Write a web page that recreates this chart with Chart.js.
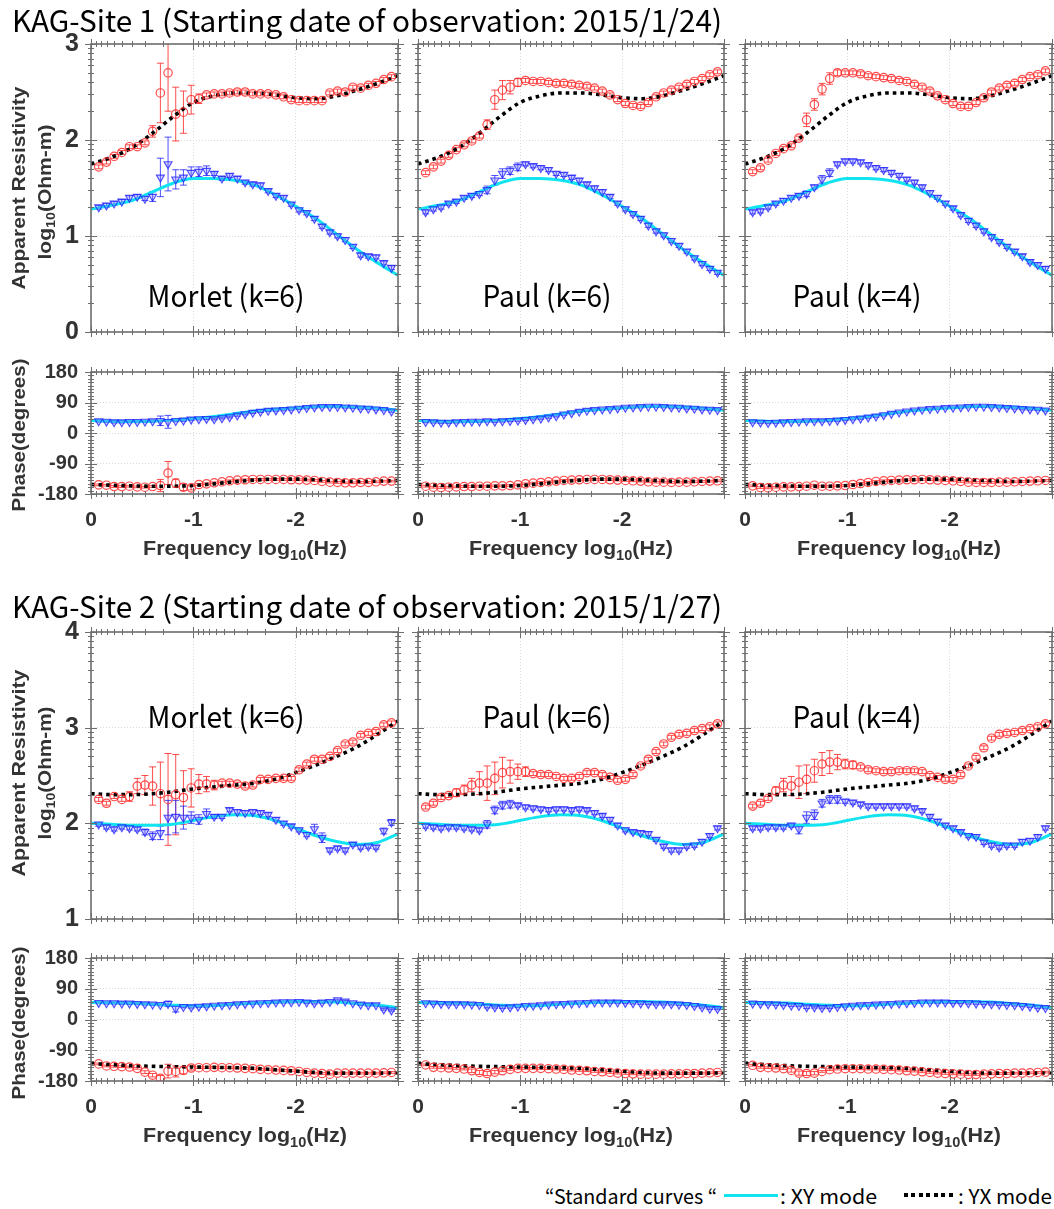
<!DOCTYPE html>
<html>
<head>
<meta charset="utf-8">
<title>KAG apparent resistivity and phase</title>
<script src="https://cdn.jsdelivr.net/npm/chart.js@4.4.0/dist/chart.umd.min.js"></script>
<style>
  html, body { margin: 0; padding: 0; background: #fff; }
  body { width: 1054px; height: 1209px; position: relative; overflow: hidden; }
  canvas.panel { position: absolute; }
  .txt { position: absolute; white-space: nowrap; line-height: 1; }
  .sub { font-size: 0.68em; position: relative; top: 0.32em; }
  .swatch { position: absolute; }
</style>
</head>
<body>
<script>
// Frequencies (log10 Hz) of the estimates, four per octave
const FREQ = [-0.075, -0.151, -0.226, -0.301, -0.376, -0.452, -0.527, -0.602, -0.678, -0.753,
  -0.828, -0.903, -0.979, -1.054, -1.129, -1.204, -1.280, -1.355, -1.430, -1.506,
  -1.581, -1.656, -1.731, -1.807, -1.882, -1.957, -2.033, -2.108, -2.183, -2.258,
  -2.334, -2.409, -2.484, -2.559, -2.635, -2.710, -2.785, -2.861, -2.936];

// Frequencies of the standard curves
const STD_FREQ = [0, -0.2, -0.4, -0.6, -0.8, -1.0, -1.2, -1.4, -1.6, -1.8, -2.0, -2.2, -2.4, -2.6, -2.8, -3.0];

// Axis ticks
const X_TICKS = [0, -1, -2, -3];
const S1_RHO_TICKS = [0, 1, 2, 3];
const S2_RHO_TICKS = [1, 2, 3, 4];
const PHI_TICKS = [-180, -90, 0, 90, 180];

// Standard curves, site 1
const S1_STD_XY_RHO = [1.28, 1.32, 1.37, 1.46, 1.55, 1.60, 1.60, 1.58, 1.53, 1.43, 1.31, 1.18, 1.02, 0.86, 0.72, 0.59];
const S1_STD_YX_RHO = [1.75, 1.82, 1.92, 2.07, 2.24, 2.39, 2.46, 2.49, 2.49, 2.47, 2.44, 2.43, 2.46, 2.52, 2.59, 2.67];
const S1_STD_XY_PHI = [37, 35, 34, 35, 38, 43, 49, 57, 65, 70, 74, 78, 79, 77, 73, 67];
const S1_STD_YX_PHI = [-152, -154, -156, -157, -157, -155, -150, -144, -139, -136, -136, -138, -141, -143, -142, -140];

// Standard curves, site 2
const S2_STD_XY_RHO = [2.00, 1.99, 1.98, 1.98, 1.99, 2.03, 2.07, 2.09, 2.08, 2.03, 1.95, 1.87, 1.81, 1.78, 1.80, 1.89];
const S2_STD_YX_RHO = [2.31, 2.30, 2.30, 2.31, 2.33, 2.36, 2.38, 2.40, 2.42, 2.46, 2.53, 2.61, 2.70, 2.80, 2.93, 3.07];
const S2_STD_XY_PHI = [50, 49, 48, 45, 42, 40, 41, 45, 48, 51, 53, 53, 51, 47, 42, 35];
const S2_STD_YX_PHI = [-129, -132, -135, -137, -138, -139, -140, -141, -143, -147, -151, -155, -157, -157, -157, -156];

// Site 1 apparent resistivity (log10 Ohm-m)
const S1_MORLET6_YX_RHO = [1.72, 1.77, 1.83, 1.87, 1.93, 1.93, 1.97, 2.09, 2.49, 2.70, 2.27, 2.29, 2.42, 2.43, 2.47, 2.48, 2.48, 2.49, 2.50, 2.50,
  2.48, 2.48, 2.48, 2.47, 2.45, 2.42, 2.41, 2.41, 2.41, 2.41, 2.49, 2.51, 2.50, 2.55, 2.54, 2.57, 2.59, 2.63, 2.66];
const S1_MORLET6_XY_RHO = [1.30, 1.32, 1.34, 1.36, 1.40, 1.41, 1.39, 1.41, 1.61, 1.75, 1.59, 1.61, 1.66, 1.67, 1.68, 1.65, 1.60, 1.63, 1.60, 1.56,
  1.54, 1.53, 1.47, 1.42, 1.40, 1.33, 1.27, 1.24, 1.18, 1.10, 1.04, 1.00, 0.96, 0.89, 0.80, 0.79, 0.78, 0.72, 0.67];
const S1_PAUL6_YX_RHO = [1.66, 1.72, 1.78, 1.84, 1.90, 1.95, 1.99, 2.04, 2.16, 2.42, 2.52, 2.55, 2.60, 2.62, 2.61, 2.61, 2.60, 2.59, 2.59, 2.58,
  2.57, 2.56, 2.54, 2.51, 2.47, 2.42, 2.38, 2.36, 2.35, 2.39, 2.45, 2.49, 2.52, 2.55, 2.58, 2.61, 2.64, 2.68, 2.71];
const S1_PAUL6_XY_RHO = [1.25, 1.28, 1.30, 1.34, 1.36, 1.40, 1.42, 1.44, 1.48, 1.58, 1.65, 1.68, 1.72, 1.75, 1.73, 1.71, 1.69, 1.65, 1.64, 1.61,
  1.58, 1.54, 1.50, 1.46, 1.41, 1.34, 1.28, 1.23, 1.18, 1.11, 1.05, 1.01, 0.95, 0.90, 0.84, 0.77, 0.71, 0.66, 0.62];
const S1_PAUL4_YX_RHO = [1.67, 1.71, 1.79, 1.86, 1.91, 1.94, 2.02, 2.21, 2.37, 2.53, 2.64, 2.70, 2.70, 2.70, 2.69, 2.67, 2.66, 2.65, 2.64, 2.62,
  2.61, 2.58, 2.55, 2.51, 2.46, 2.42, 2.38, 2.35, 2.35, 2.39, 2.44, 2.50, 2.54, 2.57, 2.59, 2.63, 2.66, 2.68, 2.72];
const S1_PAUL4_XY_RHO = [1.25, 1.26, 1.30, 1.34, 1.37, 1.40, 1.42, 1.44, 1.51, 1.59, 1.66, 1.75, 1.78, 1.78, 1.77, 1.74, 1.71, 1.69, 1.66, 1.63,
  1.59, 1.56, 1.51, 1.45, 1.40, 1.34, 1.29, 1.22, 1.16, 1.11, 1.05, 0.99, 0.94, 0.89, 0.84, 0.79, 0.73, 0.70, 0.66];

// Site 1 phase (degrees)
const S1_MORLET6_XY_PHI = [35, 34, 32, 32, 33, 33, 34, 35, 36, 33, 36, 37, 40, 41, 42, 41, 44, 47, 52, 56,
  60, 63, 66, 67, 68, 70, 72, 74, 76, 77, 77, 77, 76, 75, 73, 72, 70, 68, 64];
const S1_MORLET6_YX_PHI = [-153, -154, -158, -158, -157, -159, -160, -158, -155, -118, -148, -160, -162, -152, -150, -147, -144, -141, -139, -138,
  -137, -137, -137, -137, -137, -138, -138, -139, -140, -143, -145, -146, -147, -147, -146, -146, -144, -142, -142];
const S1_PAUL6_XY_PHI = [33, 32, 31, 31, 32, 33, 34, 34, 35, 34, 35, 36, 37, 39, 41, 43, 46, 50, 55, 59,
  63, 66, 68, 70, 71, 73, 75, 76, 77, 78, 78, 77, 76, 75, 73, 72, 70, 69, 68];
const S1_PAUL6_YX_PHI = [-157, -160, -161, -160, -159, -158, -158, -157, -157, -156, -156, -155, -153, -150, -148, -146, -144, -142, -140, -139,
  -138, -137, -137, -137, -138, -139, -140, -141, -142, -144, -145, -145, -146, -145, -145, -144, -143, -142, -141];
const S1_PAUL4_XY_PHI = [32, 31, 30, 31, 32, 33, 34, 35, 35, 35, 36, 37, 39, 41, 43, 46, 49, 53, 57, 61,
  64, 67, 69, 71, 72, 74, 75, 76, 77, 78, 78, 77, 76, 74, 73, 71, 70, 69, 67];
const S1_PAUL4_YX_PHI = [-156, -161, -162, -160, -159, -159, -158, -157, -154, -157, -157, -156, -155, -152, -149, -146, -143, -141, -140, -139,
  -138, -138, -137, -138, -139, -140, -141, -143, -145, -146, -146, -146, -145, -145, -144, -143, -142, -141, -140];

// Site 2 apparent resistivity (log10 Ohm-m)
const S2_MORLET6_YX_RHO = [2.25, 2.21, 2.28, 2.25, 2.28, 2.39, 2.40, 2.39, 2.31, 2.25, 2.30, 2.27, 2.37, 2.41, 2.41, 2.40, 2.42, 2.42, 2.41, 2.39,
  2.40, 2.46, 2.46, 2.47, 2.47, 2.47, 2.56, 2.62, 2.67, 2.67, 2.70, 2.76, 2.83, 2.85, 2.92, 2.94, 2.96, 3.03, 3.05];
const S2_MORLET6_XY_RHO = [1.99, 1.96, 1.94, 1.96, 1.95, 1.94, 1.91, 1.87, 1.90, 2.06, 2.07, 2.06, 2.06, 2.04, 2.10, 2.07, 2.07, 2.14, 2.12, 2.11,
  2.12, 2.11, 2.09, 2.04, 2.00, 1.97, 1.93, 1.88, 1.94, 1.85, 1.72, 1.74, 1.72, 1.78, 1.75, 1.76, 1.75, 1.92, 2.01];
const S2_PAUL6_YX_RHO = [2.17, 2.21, 2.27, 2.29, 2.32, 2.35, 2.40, 2.42, 2.42, 2.47, 2.53, 2.54, 2.54, 2.54, 2.52, 2.51, 2.51, 2.49, 2.47, 2.47,
  2.49, 2.53, 2.53, 2.51, 2.48, 2.45, 2.46, 2.51, 2.60, 2.67, 2.75, 2.83, 2.90, 2.93, 2.94, 2.97, 2.99, 3.01, 3.04];
const S2_PAUL6_XY_RHO = [1.97, 1.96, 1.95, 1.96, 1.96, 1.95, 1.94, 1.93, 1.99, 2.14, 2.19, 2.20, 2.19, 2.17, 2.16, 2.15, 2.14, 2.15, 2.15, 2.14,
  2.15, 2.14, 2.11, 2.08, 2.04, 1.98, 1.93, 1.91, 1.90, 1.89, 1.83, 1.76, 1.72, 1.72, 1.76, 1.77, 1.81, 1.87, 1.95];
const S2_PAUL4_YX_RHO = [2.18, 2.21, 2.26, 2.34, 2.40, 2.39, 2.43, 2.46, 2.55, 2.62, 2.64, 2.64, 2.62, 2.61, 2.59, 2.56, 2.55, 2.54, 2.54, 2.55,
  2.55, 2.55, 2.54, 2.50, 2.48, 2.46, 2.46, 2.51, 2.60, 2.69, 2.79, 2.89, 2.93, 2.94, 2.95, 2.97, 2.99, 3.01, 3.04];
const S2_PAUL4_XY_RHO = [1.95, 1.95, 1.96, 1.96, 1.96, 1.98, 1.94, 2.06, 2.09, 2.21, 2.25, 2.25, 2.23, 2.22, 2.20, 2.18, 2.18, 2.18, 2.18, 2.18,
  2.18, 2.16, 2.13, 2.07, 2.02, 1.98, 1.95, 1.91, 1.87, 1.86, 1.80, 1.77, 1.75, 1.77, 1.77, 1.81, 1.82, 1.86, 1.95];

// Site 2 phase (degrees)
const S2_MORLET6_XY_PHI = [49, 48, 48, 47, 47, 46, 45, 44, 43, 46, 32, 37, 36, 38, 39, 41, 42, 43, 45, 46,
  47, 48, 49, 50, 51, 51, 52, 50, 48, 50, 52, 57, 53, 48, 44, 42, 42, 30, 27];
const S2_MORLET6_YX_PHI = [-130, -136, -137, -138, -139, -143, -154, -163, -172, -151, -152, -149, -142, -141, -141, -140, -141, -141, -142, -143,
  -144, -146, -147, -148, -149, -150, -152, -155, -157, -158, -160, -157, -157, -157, -157, -157, -157, -156, -155];
const S2_PAUL6_XY_PHI = [48, 47, 46, 45, 45, 45, 44, 43, 38, 36, 35, 36, 38, 40, 41, 42, 44, 45, 46, 47,
  48, 49, 50, 50, 50, 50, 49, 48, 47, 46, 45, 45, 45, 44, 43, 40, 36, 32, 31];
const S2_PAUL6_YX_PHI = [-133, -140, -141, -142, -143, -145, -150, -155, -158, -154, -150, -146, -143, -143, -143, -143, -144, -145, -146, -148,
  -149, -150, -152, -153, -155, -157, -158, -159, -160, -160, -160, -160, -159, -159, -158, -158, -157, -156, -155];
const S2_PAUL4_XY_PHI = [47, 46, 45, 44, 43, 41, 40, 36, 36, 34, 35, 37, 39, 41, 42, 43, 44, 45, 46, 47,
  48, 49, 50, 50, 50, 50, 49, 49, 48, 47, 46, 45, 44, 43, 42, 40, 38, 35, 34];
const S2_PAUL4_YX_PHI = [-134, -140, -141, -142, -144, -149, -157, -158, -157, -152, -147, -145, -144, -144, -144, -145, -145, -146, -147, -148,
  -150, -151, -153, -155, -157, -158, -159, -160, -161, -161, -160, -159, -158, -158, -157, -157, -156, -155, -154];

// Error bar half-lengths that differ from the default (point index -> error)
const RHO_ERR_DEFAULT = 0.02;
const PHI_ERR_DEFAULT = 2.5;
const S1_MORLET6_YX_RHO_ERR = { 7: 0.06, 8: 0.31, 9: 0.40, 10: 0.28, 11: 0.22, 12: 0.15, 13: 0.05 };
const S1_MORLET6_XY_RHO_ERR = { 7: 0.05, 8: 0.20, 9: 0.28, 10: 0.10, 11: 0.08, 12: 0.06, 13: 0.05, 14: 0.05 };
const S1_PAUL6_YX_RHO_ERR = { 8: 0.05, 9: 0.10, 10: 0.10, 11: 0.07, 12: 0.04 };
const S1_PAUL6_XY_RHO_ERR = { 8: 0.04, 9: 0.05, 10: 0.05, 11: 0.04, 12: 0.04 };
const S1_PAUL4_YX_RHO_ERR = { 7: 0.07, 8: 0.06, 9: 0.06, 10: 0.06, 11: 0.03 };
const S1_PAUL4_XY_RHO_ERR = { 7: 0.03, 9: 0.04, 10: 0.04 };
const S1_MORLET6_XY_PHI_ERR = { 8: 14, 9: 19 };
const S1_MORLET6_YX_PHI_ERR = { 8: 18, 9: 34, 10: 12, 11: 10, 12: 6 };
const S2_MORLET6_YX_RHO_ERR = { 4: 0.05, 5: 0.08, 6: 0.10, 7: 0.20, 8: 0.33, 9: 0.48, 10: 0.42, 11: 0.28, 12: 0.20, 13: 0.10, 14: 0.08, 15: 0.05 };
const S2_MORLET6_XY_RHO_ERR = { 6: 0.03, 7: 0.04, 8: 0.07, 9: 0.18, 10: 0.17, 11: 0.12, 12: 0.06, 13: 0.05, 14: 0.05, 28: 0.05, 29: 0.05, 37: 0.03, 38: 0.03 };
const S2_PAUL6_YX_RHO_ERR = { 4: 0.04, 5: 0.05, 6: 0.07, 7: 0.12, 8: 0.18, 9: 0.17, 10: 0.16, 11: 0.12, 12: 0.08, 13: 0.05 };
const S2_PAUL6_XY_RHO_ERR = { 8: 0.04, 9: 0.04, 10: 0.04, 11: 0.04 };
const S2_PAUL4_YX_RHO_ERR = { 3: 0.04, 4: 0.07, 5: 0.10, 6: 0.17, 7: 0.15, 8: 0.12, 9: 0.12, 10: 0.12, 11: 0.08, 12: 0.05, 13: 0.04 };
const S2_PAUL4_XY_RHO_ERR = { 6: 0.05, 7: 0.06, 8: 0.05, 9: 0.04, 10: 0.04, 11: 0.04 };
const S2_MORLET6_XY_PHI_ERR = { 9: 8, 10: 10 };
const S2_MORLET6_YX_PHI_ERR = { 6: 4, 7: 5, 8: 8, 9: 20, 10: 16, 11: 10, 12: 6 };
const S2_PAUL6_XY_PHI_ERR = { 8: 4 };
const S2_PAUL6_YX_PHI_ERR = { 6: 5, 7: 6, 8: 6, 9: 5 };
const S2_PAUL4_XY_PHI_ERR = { 7: 4 };
const S2_PAUL4_YX_PHI_ERR = { 5: 5, 6: 6, 7: 6, 8: 5 };

// Layout (plot boxes in page pixels)
const COLS = [{ l: 91, r: 398 }, { l: 418, r: 724 }, { l: 745, r: 1052 }];
const ROWS = {
  s1Rho: { t: 44, b: 332 },
  s1Phi: { t: 372, b: 494 },
  s2Rho: { t: 632, b: 919 },
  s2Phi: { t: 958, b: 1081 }
};

// Styles
const RED = 'rgba(255, 45, 45, 0.85)';
const BLUE = 'rgba(35, 35, 255, 0.8)';
const BLUE_FILL = 'rgba(110, 110, 255, 0.3)';
const CYAN = '#12e3f0';
const TICK_COLOR = '#333333';
const FRAME_COLOR = '#6e6e6e';
const GRID_COLOR = '#d9d9d9';
const JP_FONT = "'Noto Sans CJK JP', 'Noto Sans', sans-serif";
const AXIS_FONT = "'Liberation Sans', Arial, sans-serif";

Chart.defaults.font.family = AXIS_FONT;

// Helpers to turn the arrays into chart points
function toPoints(xs, ys) {
  return xs.map((x, i) => ({ x: x, y: ys[i] }));
}

function errorList(map, base) {
  return FREQ.map((_, i) => (map && map[i] !== undefined) ? map[i] : base);
}

// Minor tick positions: log spacing on the frequency axis
function xMinorTicks() {
  const out = [];
  for (let d = 0; d < 3; d++) {
    for (let m = 2; m <= 9; m++) out.push(-(d + 1) + Math.log10(m));
  }
  return out;
}

function yMinorTicks(kind, min, max) {
  const out = [];
  if (kind === 'rho') {
    for (let d = min; d < max; d++) {
      for (let m = 2; m <= 9; m++) out.push(d + Math.log10(m));
    }
  } else {
    for (let v = min + 10; v < max; v += 10) {
      if (v % 90 !== 0) out.push(v);
    }
  }
  return out;
}

// Vertical error bars with caps, drawn under the markers
const errorBarPlugin = {
  id: 'errorBars',
  beforeDatasetsDraw(chart) {
    const { ctx, chartArea: a, scales: { x, y } } = chart;
    ctx.save();
    ctx.beginPath();
    ctx.rect(a.left, a.top, a.right - a.left, a.bottom - a.top);
    ctx.clip();
    ctx.lineWidth = 1;
    chart.data.datasets.forEach(ds => {
      if (!ds.errors) return;
      ctx.strokeStyle = ds.errorColor;
      ctx.beginPath();
      ds.data.forEach((p, i) => {
        const e = ds.errors[i];
        const px = x.getPixelForValue(p.x);
        const top = y.getPixelForValue(p.y + e);
        const bot = y.getPixelForValue(p.y - e);
        ctx.moveTo(px, top); ctx.lineTo(px, bot);
        ctx.moveTo(px - 3.5, top); ctx.lineTo(px + 3.5, top);
        ctx.moveTo(px - 3.5, bot); ctx.lineTo(px + 3.5, bot);
      });
      ctx.stroke();
    });
    ctx.restore();
  }
};

// Box around the plot with major and minor ticks on all four sides
const framePlugin = {
  id: 'frame',
  afterDraw(chart, args, opts) {
    const { ctx, chartArea: a, scales: { x, y } } = chart;
    ctx.save();
    ctx.strokeStyle = FRAME_COLOR;
    ctx.lineWidth = 1.6;
    ctx.strokeRect(a.left, a.top, a.right - a.left, a.bottom - a.top);
    ctx.lineWidth = 1;
    ctx.beginPath();
    X_TICKS.forEach(v => {
      const px = Math.round(x.getPixelForValue(v)) + 0.5;
      ctx.moveTo(px, a.top - 5); ctx.lineTo(px, a.top + 6);
      ctx.moveTo(px, a.bottom + 5); ctx.lineTo(px, a.bottom - 6);
    });
    xMinorTicks().forEach(v => {
      const px = Math.round(x.getPixelForValue(v)) + 0.5;
      ctx.moveTo(px, a.top - 3); ctx.lineTo(px, a.top + 3);
      ctx.moveTo(px, a.bottom + 3); ctx.lineTo(px, a.bottom - 3);
    });
    opts.majorY.forEach(v => {
      const py = Math.round(y.getPixelForValue(v)) + 0.5;
      ctx.moveTo(a.left - 6, py); ctx.lineTo(a.left + 6, py);
      ctx.moveTo(a.right + 6, py); ctx.lineTo(a.right - 6, py);
    });
    opts.minorY.forEach(v => {
      const py = Math.round(y.getPixelForValue(v)) + 0.5;
      ctx.moveTo(a.left - 3, py); ctx.lineTo(a.left + 3, py);
      ctx.moveTo(a.right + 3, py); ctx.lineTo(a.right - 3, py);
    });
    ctx.stroke();
    ctx.restore();
  }
};

// One chart per panel
function makePanel(p) {
  const col = COLS[p.col];
  const row = ROWS[p.row];
  const isRho = p.kind === 'rho';
  const padL = p.col === 0 ? 70 : 24;
  const padR = 24;
  const padT = 32;
  const padB = isRho ? 32 : 44;
  const w = col.r - col.l + padL + padR;
  const h = row.b - row.t + padT + padB;

  const canvas = document.createElement('canvas');
  canvas.className = 'panel';
  canvas.width = w;
  canvas.height = h;
  canvas.style.left = (col.l - padL) + 'px';
  canvas.style.top = (row.t - padT) + 'px';
  canvas.style.width = w + 'px';
  canvas.style.height = h + 'px';
  document.body.appendChild(canvas);

  const base = isRho ? RHO_ERR_DEFAULT : PHI_ERR_DEFAULT;
  const yTicks = p.yTicks;

  return new Chart(canvas.getContext('2d'), {
    type: 'scatter',
    data: {
      datasets: [
        {
          label: 'YX data',
          data: toPoints(FREQ, p.yx),
          errors: errorList(p.yxErr, base),
          errorColor: RED,
          showLine: false,
          pointStyle: 'circle',
          pointRadius: 4.2,
          pointBorderWidth: 1.2,
          pointBorderColor: RED,
          pointBackgroundColor: 'rgba(0,0,0,0)'
        },
        {
          label: 'XY data',
          data: toPoints(FREQ, p.xy),
          errors: errorList(p.xyErr, base),
          errorColor: BLUE,
          showLine: false,
          pointStyle: 'triangle',
          pointRotation: 180,
          pointRadius: 4.6,
          pointBorderWidth: 1.1,
          pointBorderColor: BLUE,
          pointBackgroundColor: BLUE_FILL
        },
        {
          label: 'YX standard',
          data: toPoints(STD_FREQ, p.stdYX),
          showLine: true,
          borderColor: '#000000',
          borderWidth: 3.6,
          borderDash: [3.6, 4],
          cubicInterpolationMode: 'monotone',
          pointRadius: 0
        },
        {
          label: 'XY standard',
          data: toPoints(STD_FREQ, p.stdXY),
          showLine: true,
          borderColor: CYAN,
          borderWidth: 3,
          cubicInterpolationMode: 'monotone',
          pointRadius: 0
        }
      ]
    },
    options: {
      responsive: false,
      animation: false,
      events: [],
      layout: { padding: { left: 0, right: padR, top: padT, bottom: 0 } },
      plugins: {
        legend: { display: false },
        tooltip: { enabled: false },
        frame: { majorY: yTicks, minorY: yMinorTicks(p.kind, yTicks[0], yTicks[yTicks.length - 1]) }
      },
      scales: {
        x: {
          type: 'linear',
          min: -3,
          max: 0,
          reverse: true,
          afterBuildTicks: s => { s.ticks = X_TICKS.map(v => ({ value: v })); },
          afterFit: s => { s.height = padB; },
          grid: { color: GRID_COLOR, lineWidth: 1, drawTicks: false },
          border: { display: false, dash: [1, 2] },
          ticks: {
            display: !isRho,
            padding: 14,
            maxRotation: 0,
            autoSkip: false,
            color: TICK_COLOR,
            font: { size: 21, weight: 'bold' },
            callback: v => (v === -3 ? '' : String(v))
          }
        },
        y: {
          type: 'linear',
          min: yTicks[0],
          max: yTicks[yTicks.length - 1],
          afterBuildTicks: s => { s.ticks = yTicks.map(v => ({ value: v })); },
          afterFit: s => { s.width = padL; },
          grid: { color: GRID_COLOR, lineWidth: 1, drawTicks: false },
          border: { display: false, dash: [1, 2] },
          ticks: {
            display: p.col === 0,
            padding: isRho ? 12 : 13,
            autoSkip: false,
            color: TICK_COLOR,
            font: { size: isRho ? 25 : 20, weight: 'bold' },
            callback: v => String(v)
          }
        }
      }
    },
    plugins: [errorBarPlugin, framePlugin]
  });
}

// Text placed as HTML so subscripts and the gothic face can be used
function addText(html, o) {
  const el = document.createElement('div');
  el.className = 'txt';
  el.innerHTML = html;
  el.style.font = `${o.weight || 'normal'} ${o.size}px ${o.family}`;
  el.style.color = o.color || '#000';
  document.body.appendChild(el);
  const natural = el.getBoundingClientRect().width;
  const sx = o.width ? o.width / natural : 1;
  el.style.left = o.x + 'px';
  el.style.top = o.y + 'px';
  if (o.align === 'left') {
    el.style.transformOrigin = '0 50%';
    el.style.transform = `translateY(-50%) scaleX(${sx})`;
  } else {
    el.style.transform = `translate(-50%, -50%) rotate(${o.rot || 0}deg) scaleX(${sx})`;
  }
  return el;
}

function addSwatch(x, y, w, h, background) {
  const el = document.createElement('div');
  el.className = 'swatch';
  el.style.left = x + 'px';
  el.style.top = y + 'px';
  el.style.width = w + 'px';
  el.style.height = h + 'px';
  el.style.background = background;
  document.body.appendChild(el);
}

const PANELS = [
  { col: 0, row: 's1Rho', kind: 'rho', yTicks: S1_RHO_TICKS, yx: S1_MORLET6_YX_RHO, xy: S1_MORLET6_XY_RHO, yxErr: S1_MORLET6_YX_RHO_ERR, xyErr: S1_MORLET6_XY_RHO_ERR, stdYX: S1_STD_YX_RHO, stdXY: S1_STD_XY_RHO },
  { col: 1, row: 's1Rho', kind: 'rho', yTicks: S1_RHO_TICKS, yx: S1_PAUL6_YX_RHO, xy: S1_PAUL6_XY_RHO, yxErr: S1_PAUL6_YX_RHO_ERR, xyErr: S1_PAUL6_XY_RHO_ERR, stdYX: S1_STD_YX_RHO, stdXY: S1_STD_XY_RHO },
  { col: 2, row: 's1Rho', kind: 'rho', yTicks: S1_RHO_TICKS, yx: S1_PAUL4_YX_RHO, xy: S1_PAUL4_XY_RHO, yxErr: S1_PAUL4_YX_RHO_ERR, xyErr: S1_PAUL4_XY_RHO_ERR, stdYX: S1_STD_YX_RHO, stdXY: S1_STD_XY_RHO },
  { col: 0, row: 's1Phi', kind: 'phi', yTicks: PHI_TICKS, yx: S1_MORLET6_YX_PHI, xy: S1_MORLET6_XY_PHI, yxErr: S1_MORLET6_YX_PHI_ERR, xyErr: S1_MORLET6_XY_PHI_ERR, stdYX: S1_STD_YX_PHI, stdXY: S1_STD_XY_PHI },
  { col: 1, row: 's1Phi', kind: 'phi', yTicks: PHI_TICKS, yx: S1_PAUL6_YX_PHI, xy: S1_PAUL6_XY_PHI, yxErr: null, xyErr: null, stdYX: S1_STD_YX_PHI, stdXY: S1_STD_XY_PHI },
  { col: 2, row: 's1Phi', kind: 'phi', yTicks: PHI_TICKS, yx: S1_PAUL4_YX_PHI, xy: S1_PAUL4_XY_PHI, yxErr: null, xyErr: null, stdYX: S1_STD_YX_PHI, stdXY: S1_STD_XY_PHI },
  { col: 0, row: 's2Rho', kind: 'rho', yTicks: S2_RHO_TICKS, yx: S2_MORLET6_YX_RHO, xy: S2_MORLET6_XY_RHO, yxErr: S2_MORLET6_YX_RHO_ERR, xyErr: S2_MORLET6_XY_RHO_ERR, stdYX: S2_STD_YX_RHO, stdXY: S2_STD_XY_RHO },
  { col: 1, row: 's2Rho', kind: 'rho', yTicks: S2_RHO_TICKS, yx: S2_PAUL6_YX_RHO, xy: S2_PAUL6_XY_RHO, yxErr: S2_PAUL6_YX_RHO_ERR, xyErr: S2_PAUL6_XY_RHO_ERR, stdYX: S2_STD_YX_RHO, stdXY: S2_STD_XY_RHO },
  { col: 2, row: 's2Rho', kind: 'rho', yTicks: S2_RHO_TICKS, yx: S2_PAUL4_YX_RHO, xy: S2_PAUL4_XY_RHO, yxErr: S2_PAUL4_YX_RHO_ERR, xyErr: S2_PAUL4_XY_RHO_ERR, stdYX: S2_STD_YX_RHO, stdXY: S2_STD_XY_RHO },
  { col: 0, row: 's2Phi', kind: 'phi', yTicks: PHI_TICKS, yx: S2_MORLET6_YX_PHI, xy: S2_MORLET6_XY_PHI, yxErr: S2_MORLET6_YX_PHI_ERR, xyErr: S2_MORLET6_XY_PHI_ERR, stdYX: S2_STD_YX_PHI, stdXY: S2_STD_XY_PHI },
  { col: 1, row: 's2Phi', kind: 'phi', yTicks: PHI_TICKS, yx: S2_PAUL6_YX_PHI, xy: S2_PAUL6_XY_PHI, yxErr: S2_PAUL6_YX_PHI_ERR, xyErr: S2_PAUL6_XY_PHI_ERR, stdYX: S2_STD_YX_PHI, stdXY: S2_STD_XY_PHI },
  { col: 2, row: 's2Phi', kind: 'phi', yTicks: PHI_TICKS, yx: S2_PAUL4_YX_PHI, xy: S2_PAUL4_XY_PHI, yxErr: S2_PAUL4_YX_PHI_ERR, xyErr: S2_PAUL4_XY_PHI_ERR, stdYX: S2_STD_YX_PHI, stdXY: S2_STD_XY_PHI }
];

// Build everything
function drawFigure() {
  PANELS.forEach(makePanel);

  // Site titles
  addText('KAG-Site 1 (Starting date of observation: 2015/1/24)', { x: 12, y: 19, size: 30, width: 710, align: 'left', family: JP_FONT });
  addText('KAG-Site 2 (Starting date of observation: 2015/1/27)', { x: 12, y: 605, size: 30, width: 710, align: 'left', family: JP_FONT });

  // Axis titles
  const bold = { weight: 'bold', family: AXIS_FONT, color: TICK_COLOR, rot: -90 };
  addText('Apparent Resistivity', { ...bold, x: 19, y: 188, size: 19, width: 203 });
  addText('log<span class="sub">10</span>(Ohm-m)', { ...bold, x: 45, y: 192, size: 19, width: 135 });
  addText('Phase(degrees)', { ...bold, x: 19, y: 435, size: 19, width: 153 });
  addText('Apparent Resistivity', { ...bold, x: 19, y: 773, size: 19, width: 207 });
  addText('log<span class="sub">10</span>(Ohm-m)', { ...bold, x: 45, y: 773, size: 19, width: 133 });
  addText('Phase(degrees)', { ...bold, x: 19, y: 1023, size: 19, width: 153 });

  COLS.forEach(c => {
    const cx = (c.l + c.r) / 2;
    addText('Frequency log<span class="sub">10</span>(Hz)', { weight: 'bold', family: AXIS_FONT, color: TICK_COLOR, x: cx, y: 548, size: 21, width: 204 });
    addText('Frequency log<span class="sub">10</span>(Hz)', { weight: 'bold', family: AXIS_FONT, color: TICK_COLOR, x: cx, y: 1135, size: 21, width: 204 });
  });

  // Wavelet names inside the resistivity panels
  const names = [
    { t: 'Morlet (k=6)', x: 226, w: 157 },
    { t: 'Paul (k=6)', x: 547, w: 129 },
    { t: 'Paul (k=4)', x: 857, w: 129 }
  ];
  names.forEach(n => {
    addText(n.t, { x: n.x, y: 294, size: 30, width: n.w, family: JP_FONT });
    addText(n.t, { x: n.x, y: 715, size: 30, width: n.w, family: JP_FONT });
  });

  // Legend for the standard curves
  addText('“Standard curves “', { x: 545, y: 1195, size: 20, width: 172, align: 'left', family: JP_FONT });
  addSwatch(724, 1194, 54, 3, CYAN);
  addText(': XY mode', { x: 780, y: 1195, size: 20, width: 97, align: 'left', family: JP_FONT });
  addSwatch(904, 1193, 52, 4, 'repeating-linear-gradient(90deg, #000 0 4px, transparent 4px 7.5px)');
  addText(': YX mode', { x: 958, y: 1195, size: 20, width: 94, align: 'left', family: JP_FONT });
}

drawFigure();
</script>
</body>
</html>
